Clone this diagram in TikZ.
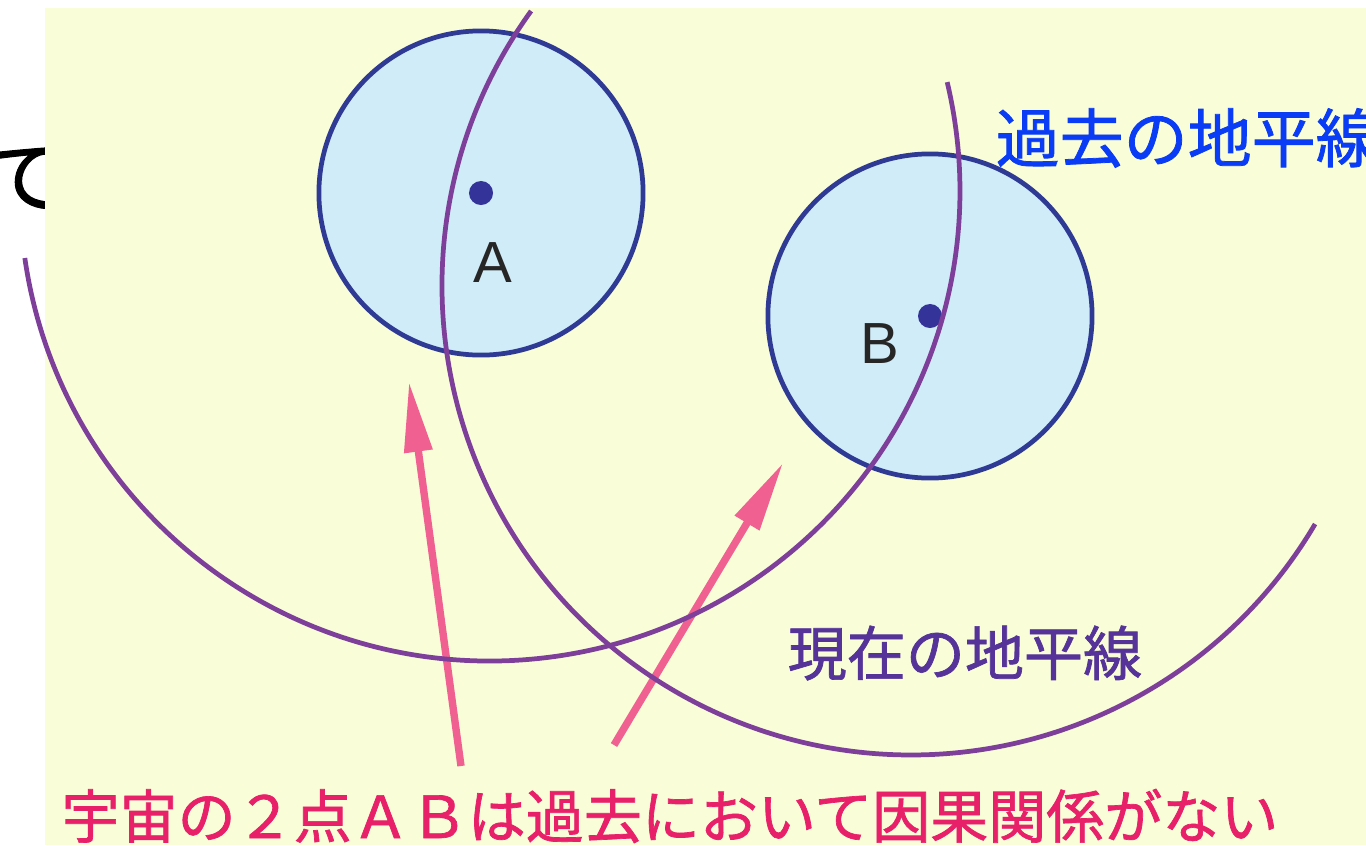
\documentclass[tikz,border=0pt]{standalone}
\usepackage{fontspec}
\setmainfont[FakeBold=1.2]{Noto Sans CJK JP}
\newfontfamily\latinlabel{Liberation Sans}
\usetikzlibrary{arrows.meta}

\definecolor{paper}{RGB}{249,253,216}
\definecolor{skyfill}{RGB}{208,236,248}
\definecolor{ringblue}{RGB}{46,58,148}
\definecolor{dotblue}{RGB}{51,51,153}
\definecolor{horizonpurple}{RGB}{126,63,154}
\definecolor{arrowpink}{RGB}{240,96,144}
\definecolor{notered}{RGB}{232,32,106}
\definecolor{pastblue}{RGB}{10,60,245}
\definecolor{nowpurple}{RGB}{85,51,153}

\begin{document}
\begin{tikzpicture}[%every path/.style={thick},
  x=0.01cm, y=-0.01cm,
  region/.style={circle, draw=ringblue, fill=skyfill, line width=1.35pt,
    minimum size=3.24cm, inner sep=0pt},
  spot/.style={circle, fill=dotblue, minimum size=0.24cm, inner sep=0pt},
  ptlabel/.style={inner sep=0pt, text=black!85,
    font=\latinlabel\fontsize{16.5pt}{16.5pt}\selectfont},
  horizon/.style={draw=horizonpurple, line width=1.35pt},
  causal/.style={draw=arrowpink, line width=2.1pt,
    -{Triangle[length=0.7cm, width=0.27cm]}},
  jtext/.style={inner sep=0pt, font=\fontsize{#1}{#1}\selectfont},
  ]
  \useasboundingbox (0,0) rectangle (1366,845);
  % cut off word at the left
  \node[jtext=23pt, anchor=west] (te) at (-16,178) {て};
  \fill[paper] (45,8) rectangle (1366,845);

  % the two regions
  \node[region] (regA) at (481,193) {};
  \node[region] (regB) at (930,316) {};
  \node[spot] (ptA) at (regA.center) {};
  \node[spot] (ptB) at (regB.center) {};
  \node[ptlabel] (labA) at (493,263) {A};
  \node[ptlabel] (labB) at (880,344) {B};

  % arrows up to the regions
  \coordinate (tailA) at (461,766);
  \coordinate (tipA) at (409,382);
  \coordinate (tailB) at (614,745);
  \coordinate (tipB) at (783,463);
  \draw[causal] (tailA) -- (tipA);
  \draw[causal] (tailB) -- (tipB);

  % horizons
  \draw[horizon] ([shift={(490,191)}]171.8:470)
    arc[start angle=171.8, end angle=-13.4, radius=470];
  \draw[horizon] ([shift={(911,286)}]215.9:469)
    arc[start angle=215.9, end angle=30.5, radius=469];

  % texts
  \node[jtext=18.2pt, text=pastblue, anchor=west] (past) at (995,138) {過去の地平線};
  \node[jtext=16.8pt, text=nowpurple, anchor=west] (now) at (787,653) {現在の地平線};
  \node[jtext=16.5pt, text=notered] (note) at (670,816)
    {宇宙の２点ＡＢは過去において因果関係がない};
\end{tikzpicture}
\end{document}
